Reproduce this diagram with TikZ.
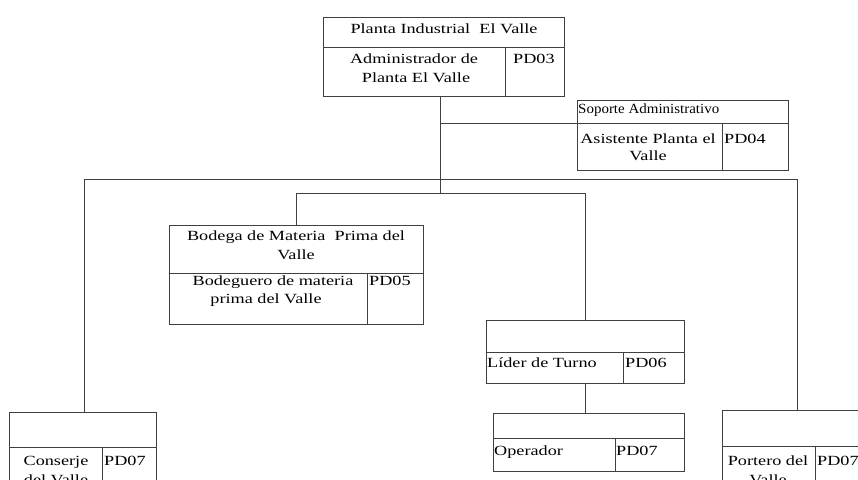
\documentclass[tikz,border=0pt]{standalone}
\usepackage{fontspec}
\setmainfont{Liberation Serif}[FakeStretch=1.3]
\newfontfamily\narrowf{Liberation Serif}[FakeStretch=1.07]
\definecolor{linec}{gray}{0.25}
\tikzset{
  cell/.style={draw=linec, line width=0.8pt, rectangle, inner sep=0pt, anchor=north west},
  txt/.style={anchor=base, inner sep=0pt, font=\fontsize{14}{17}\selectfont},
  txtl/.style={txt, anchor=base west},
  link/.style={draw=linec, line width=0.8pt}
}
\begin{document}
\begin{tikzpicture}[x=1pt,y=-1pt]
\useasboundingbox (0,0) rectangle (858,479);
\clip (0,0) rectangle (858,479);
% Top box
\node[cell, minimum width=241pt, minimum height=30pt] (th) at (323,17) {};
\node[cell, minimum width=182pt, minimum height=49pt] (tn) at (323,47) {};
\node[cell, minimum width=59pt, minimum height=49pt] (tc) at (505,47) {};
\node[txt] (tht) at (444,33) {Planta Industrial\ \ El Valle};
\node[txt] (tn1) at (414,63) {Administrador de};
\node[txt] (tn2) at (416,82) {Planta El Valle};
\node[txtl] (tct) at (513,63) {PD03};
% Soporte
\node[cell, minimum width=211pt, minimum height=23pt] (sh) at (577,100) {};
\node[cell, minimum width=145pt, minimum height=47pt] (sn) at (577,123) {};
\node[cell, minimum width=66pt, minimum height=47pt] (sc) at (722,123) {};
\node[txtl, font=\fontsize{14}{17}\narrowf] (sht) at (578,113) {Soporte Administrativo};
\node[txt] (sn1) at (648,143) {Asistente Planta el};
\node[txt] (sn2) at (648,160) {Valle};
\node[txtl] (sct) at (724,143) {PD04};
% Bodega
\node[cell, minimum width=254pt, minimum height=48pt] (bh) at (169,225) {};
\node[cell, minimum width=198pt, minimum height=51pt] (bn) at (169,273) {};
\node[cell, minimum width=56pt, minimum height=51pt] (bc) at (367,273) {};
\node[txt] (bh1) at (296,240) {Bodega de Materia\ \ Prima del};
\node[txt] (bh2) at (296,259) {Valle};
\node[txt] (bn1) at (273,285) {Bodeguero de materia};
\node[txt] (bn2) at (266,303) {prima del Valle};
\node[txtl] (bct) at (369,285) {PD05};
% Lider
\node[cell, minimum width=198pt, minimum height=32pt] (lh) at (486,320) {};
\node[cell, minimum width=137pt, minimum height=31pt] (ln) at (486,352) {};
\node[cell, minimum width=61pt, minimum height=31pt] (lc) at (623,352) {};
\node[txtl] (lnt) at (487,367) {Líder de Turno};
\node[txtl] (lct) at (625,367) {PD06};
% Operador
\node[cell, minimum width=191pt, minimum height=25pt] (oh) at (493,413) {};
\node[cell, minimum width=122pt, minimum height=33pt] (on) at (493,438) {};
\node[cell, minimum width=69pt, minimum height=33pt] (oc) at (615,438) {};
\node[txtl] (ont) at (494,455) {Operador};
\node[txtl] (oct) at (616,455) {PD07};
% Conserje
\node[cell, minimum width=147pt, minimum height=35pt] (ch) at (9,412) {};
\node[cell, minimum width=93pt, minimum height=50pt] (cn) at (9,447) {};
\node[cell, minimum width=54pt, minimum height=50pt] (cc) at (102,447) {};
\node[txt] (cn1) at (56,465) {Conserje};
\node[txt] (cn2) at (56,484) {del Valle};
\node[txtl] (cct) at (104,465) {PD07};
% Portero
\node[cell, minimum width=150pt, minimum height=36pt] (ph) at (722,410) {};
\node[cell, minimum width=93pt, minimum height=50pt] (pn) at (722,446) {};
\node[cell, minimum width=57pt, minimum height=50pt] (pc) at (815,446) {};
\node[txt] (pn1) at (768,465) {Portero del};
\node[txt] (pn2) at (768,484) {Valle};
\node[txtl] (pct) at (817,465) {PD07};
% Connectors
\coordinate (j1) at (440,193);
\coordinate (busL) at (84,179);
\coordinate (busR) at (797,179);
\coordinate (b2L) at (296,193);
\coordinate (b2R) at (585,193);
\draw[link] (tn.south -| j1) -- (j1);
\draw[link] (sh.south west) -- (sh.south west -| j1);
\draw[link] (ch.north -| busL) -- (busL) -- (busR) -- (ph.north -| busR);
\draw[link] (bh.north -| b2L) -- (b2L) -- (b2R) -- (lh.north -| b2R);
\draw[link] (ln.south -| b2R) -- (oh.north -| b2R);
\end{tikzpicture}
\end{document}
